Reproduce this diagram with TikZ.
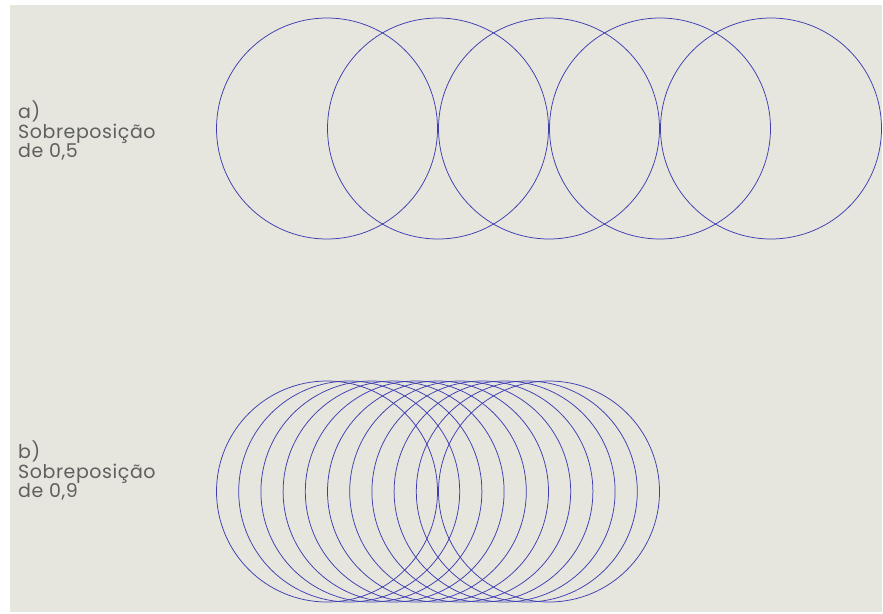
\documentclass[tikz,border=0pt]{standalone}
\usepackage{fontspec}
\setmainfont{Poppins}[LetterSpace=3]
\definecolor{bggray}{RGB}{230,229,222}
\definecolor{ringblue}{RGB}{62,62,178}
\definecolor{txtgray}{RGB}{95,95,95}
\begin{document}
\begin{tikzpicture}[x=1pt,y=-1pt,
  ring/.style={draw=ringblue,line width=0.75pt},
  lbl/.style={anchor=north west,align=left,inner sep=0pt,text=txtgray,
    font=\fontsize{19}{19.5}\selectfont}]
\useasboundingbox (0,0) rectangle (883,613);
\fill[white] (0,0) rectangle (883,613);
\fill[bggray] (10,5) rectangle (882,612);
% a) overlap 0.5
\foreach \k in {0,...,4}{
  \draw[ring] ({327+111*\k},128.5) circle[radius=110.5];
}
% b) overlap 0.9
\foreach \k in {0,...,10}{
  \draw[ring] ({327+22.2*\k},491.5) circle[radius=110.5];
}
\node[lbl] (la) at (18,101) {a)\\Sobreposição\\de 0,5};
\node[lbl] (lb) at (18,441) {b)\\Sobreposição\\de 0,9};
\end{tikzpicture}
\end{document}
